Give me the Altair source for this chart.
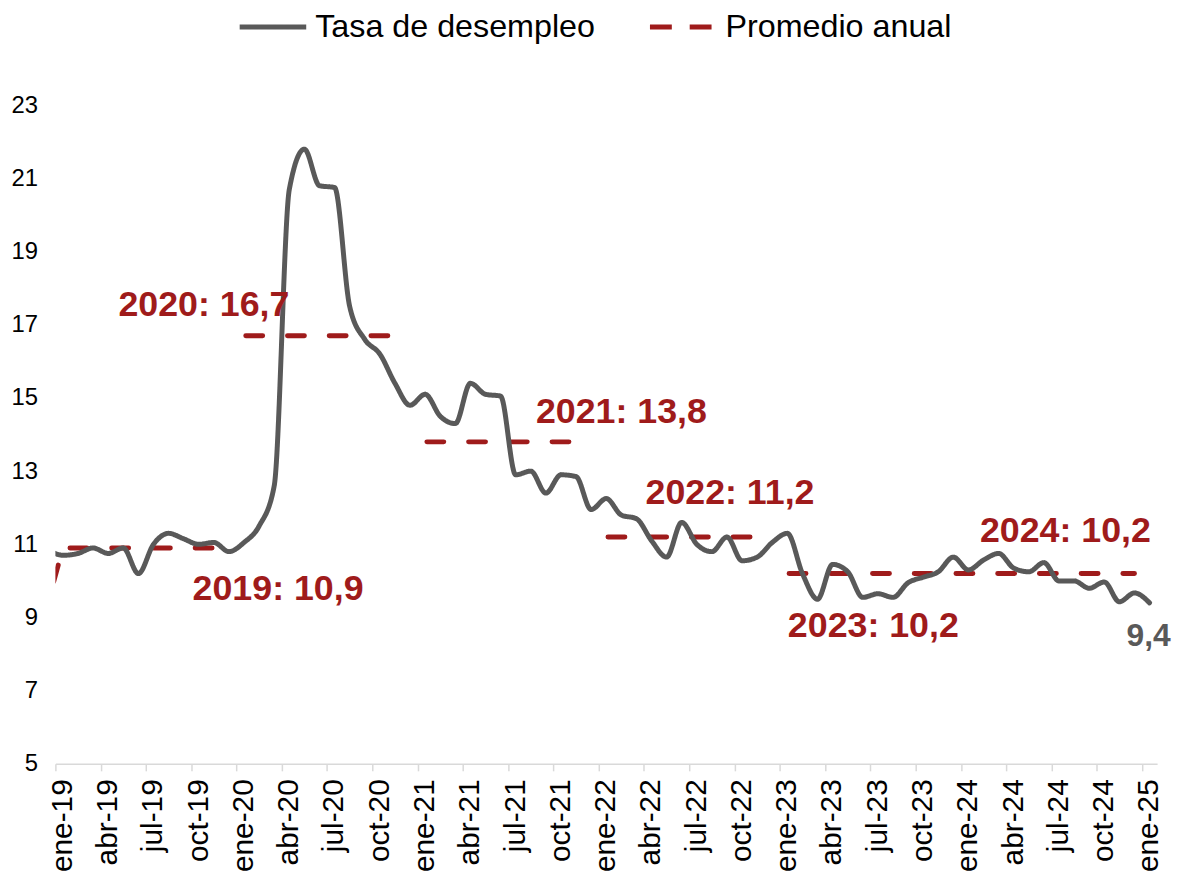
import json
import altair as alt
import pandas as pd

# ---------------- data ----------------
tick_labels = ["ene-19", "abr-19", "jul-19", "oct-19", "ene-20", "abr-20", "jul-20", "oct-20",
               "ene-21", "abr-21", "jul-21", "oct-21", "ene-22", "abr-22", "jul-22", "oct-22",
               "ene-23", "abr-23", "jul-23", "oct-23", "ene-24", "abr-24", "jul-24", "oct-24",
               "ene-25"]

# month index: -1 = dic-18, 0 = ene-19 ... 72 = ene-25
month_index = list(range(-1, 73))
rate = [10.85,
        10.7, 10.75, 10.9, 10.75, 10.9, 10.2, 11.0, 11.3, 11.15, 11.0, 11.05, 10.8,      # 2019
        11.05, 11.5, 12.6, 20.7, 21.8, 20.8, 20.75, 17.5, 16.6, 16.2, 15.4, 14.8,        # 2020
        15.1, 14.5, 14.3, 15.4, 15.1, 15.05, 12.9, 13.0, 12.4, 12.9, 12.85, 11.95,       # 2021
        12.25, 11.8, 11.7, 11.1, 10.65, 11.6, 11.0, 10.8, 11.2, 10.55, 10.65, 11.05,     # 2022
        11.3, 10.2, 9.5, 10.45, 10.25, 9.55, 9.65, 9.55, 9.95, 10.1, 10.25, 10.65,       # 2023
        10.3, 10.57, 10.75, 10.35, 10.25, 10.5, 10.0, 10.0, 9.8, 9.97, 9.43, 9.67,       # 2024
        9.4]                                                                              # ene-25

years = [2019, 2020, 2021, 2022, 2023, 2024]
annual_avg = [10.9, 16.7, 13.8, 11.2, 10.2, 10.2]
avg_2018 = 9.4
segment_of_year = [0, 1, 2, 3, 4, 4]

series_names = ["Tasa de desempleo", "Promedio anual"]

# ---------------- styles ----------------
GRAY = "#595959"
RED = "#9F1B1B"
FONT = "Liberation Sans"

# label offsets (pixels) relative to (mid-year, annual average)
ann_dx = [133, -124, 114, 41, 3, 14]
ann_dy = [52, -20, -19, -33, 63.5, -31.5]

# ---------------- tables ----------------
rate_df = pd.DataFrame({"m": month_index, "v": rate, "series": series_names[0]})

avg_rows = [{"m": -1, "v": avg_2018, "seg": 0}]
for i, (yr, a) in enumerate(zip(years, annual_avg)):
    for k in range(12):
        avg_rows.append({"m": 12 * i + k, "v": a, "seg": segment_of_year[i]})
avg_df = pd.DataFrame(avg_rows)

x_scale = alt.Scale(domain=[-0.5, 72.5], nice=False, zero=False)
y_scale = alt.Scale(domain=[5, 23], nice=False, zero=False)

label_expr = json.dumps(tick_labels) + "[round((datum.value + 0.5) / 3)]"

x_axis = alt.Axis(values=[3 * i - 0.5 for i in range(len(tick_labels))],
                  labelExpr=label_expr, title=None, grid=False,
                  domainColor="#d9d9d9", domainWidth=1.5,
                  tickColor="#d9d9d9", tickWidth=1.5, tickSize=7,
                  labelAngle=270, labelAlign="right", labelBaseline="middle",
                  labelFontSize=30, labelFont=FONT, labelColor="black",
                  labelPadding=8, labelOffset=7, labelOverlap=False, labelFlush=False)
y_axis = alt.Axis(values=list(range(5, 24, 2)), title=None, grid=False,
                  domain=False, ticks=False, labelFontSize=24, labelFont=FONT,
                  labelColor="black", labelPadding=18)

legend = alt.Legend(orient="none", legendX=183, legendY=-115, direction="horizontal",
                    title=None, symbolType="stroke", symbolSize=4489, symbolStrokeWidth=5,
                    labelFontSize=32.5, labelFont=FONT, labelColor="black", labelLimit=600,
                    columnPadding=44, labelOffset=6.5, padding=0, symbolOffset=0)

line = alt.Chart(rate_df).mark_line(
    strokeWidth=5, interpolate="monotone", clip=True, strokeCap="round"
).encode(
    x=alt.X("m:Q", scale=x_scale, axis=x_axis),
    y=alt.Y("v:Q", scale=y_scale, axis=y_axis),
    color=alt.Color("series:N", scale=alt.Scale(domain=series_names, range=[GRAY, RED]),
                    legend=legend),
    strokeDash=alt.StrokeDash("series:N",
                              scale=alt.Scale(domain=series_names, range=[[1, 0], [22, 18]]),
                              legend=legend),
)

avg_first = alt.Chart(avg_df[avg_df.seg == 0]).mark_line(
    color=RED, strokeWidth=5, strokeDash=[17, 25], strokeDashOffset=19.6,
    strokeCap="round", clip=True
).encode(x="m:Q", y="v:Q", detail="seg:N")

avg_rest = alt.Chart(avg_df[avg_df.seg > 0]).mark_line(
    color=RED, strokeWidth=5, strokeDash=[17, 25], strokeDashOffset=40.25,
    strokeCap="round", clip=True
).encode(x="m:Q", y="v:Q", detail="seg:N")

layers = [avg_first, avg_rest, line]

for i, (yr, a) in enumerate(zip(years, annual_avg)):
    txt = f"{yr}: {a:.1f}".replace(".", ",")
    d = pd.DataFrame({"m": [12 * i + 5.5], "v": [a], "t": [txt]})
    layers.append(alt.Chart(d).mark_text(
        font=FONT, fontSize=36, fontWeight="bold", color=RED,
        align="center", baseline="alphabetic", dx=ann_dx[i], dy=ann_dy[i]
    ).encode(x="m:Q", y="v:Q", text="t:N"))

last = pd.DataFrame({"m": [month_index[-1]], "v": [rate[-1]],
                     "t": [f"{rate[-1]:.1f}".replace(".", ",")]})
layers.append(alt.Chart(last).mark_text(
    font=FONT, fontSize=32, fontWeight="bold", color=GRAY,
    align="center", baseline="alphabetic", dx=-1, dy=43
).encode(x="m:Q", y="v:Q", text="t:N"))

chart = alt.layer(*layers).properties(
    width=1109, height=663,
    autosize=alt.AutoSizeParams(type="none"),
    padding={"left": 47.7, "top": 95, "right": 16, "bottom": 108},
    background="white",
).configure_view(stroke=None)

chart.save("out.html", embed_options={"renderer": "svg", "actions": False})
